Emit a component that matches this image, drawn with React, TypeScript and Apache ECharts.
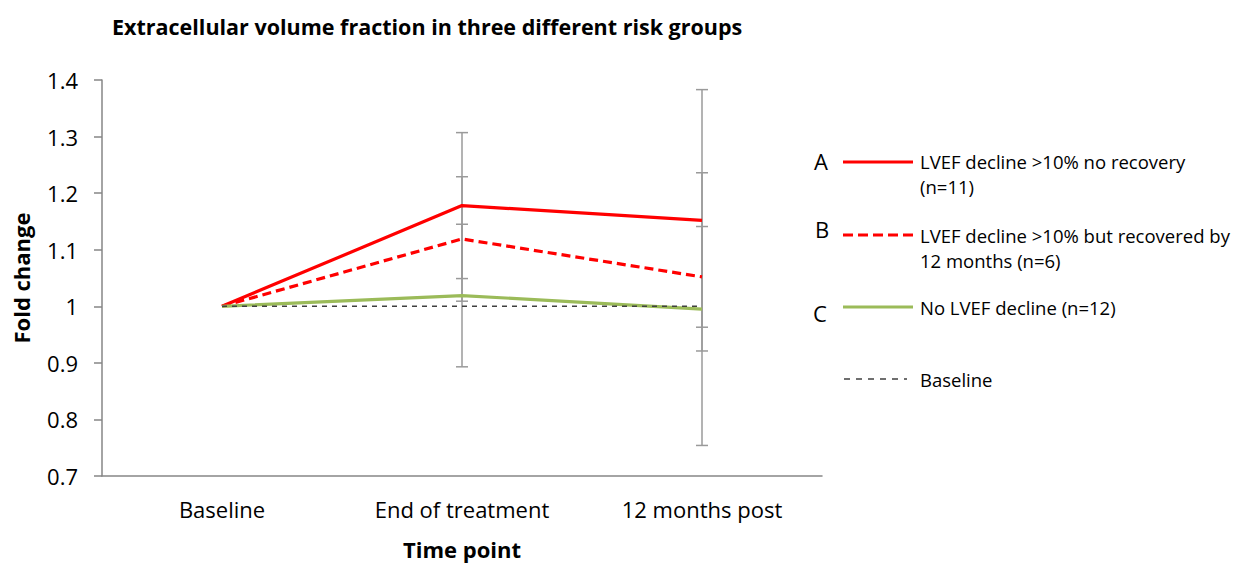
import React, { useEffect, useRef } from "react";
import * as echarts from "echarts";

const categories = ["Baseline", "End of treatment", "12 months post"];
const groupA = [1, 1.178, 1.152];
const errA = [0, 0.129, 0.231];
const groupB = [1, 1.119, 1.052];
const errB = [0, 0.11, 0.089];
const groupC = [1, 1.019, 0.995];
const errC = [0, 0.126, 0.241];
const baseline = [1, 1, 1];
const yTicks = { min: 0.7, max: 1.4, interval: 0.1 };

const FONT = "'Open Sans', 'Noto Sans', sans-serif";

function errData(vals: number[], errs: number[]) {
  return vals
    .map((v, i) => [i, v - errs[i], v + errs[i]])
    .filter((_, i) => errs[i] > 0);
}

export default function App() {
  const ref = useRef<HTMLDivElement>(null);
  useEffect(() => {
    if (!ref.current) return;
    const chart = echarts.init(ref.current, null, { renderer: "svg" });
    const errorSeries = (vals: number[], errs: number[], name: string) => ({
      type: "custom",
      name,
      z: 1,
      silent: true,
      data: errData(vals, errs),
      renderItem: (params: any, api: any) => {
        const x = api.value(0);
        const lo = api.coord([x, api.value(1)]);
        const hi = api.coord([x, api.value(2)]);
        const w = 6;
        const style = { stroke: "#9a9a9a", lineWidth: 1.5 };
        return {
          type: "group",
          children: [
            { type: "line", shape: { x1: lo[0], y1: lo[1], x2: hi[0], y2: hi[1] }, style },
            { type: "line", shape: { x1: lo[0] - w, y1: lo[1], x2: lo[0] + w, y2: lo[1] }, style },
            { type: "line", shape: { x1: hi[0] - w, y1: hi[1], x2: hi[0] + w, y2: hi[1] }, style },
          ],
        };
      },
    });
    const legendText = (x: number, y: number, text: string) => ({
      type: "text",
      x,
      y,
      style: {
        text,
        font: `18.5px ${FONT}`,
        fill: "#000",
        textVerticalAlign: "middle",
        lineHeight: 25,
      },
    });
    const letter = (x: number, y: number, text: string) => ({
      type: "text",
      x,
      y,
      style: { text, font: `22px ${FONT}`, fill: "#000", textAlign: "center", textVerticalAlign: "middle" },
    });
    chart.setOption({
      animation: false,
      title: {
        text: "Extracellular volume fraction in three different risk groups",
        left: 112,
        top: 15,
        padding: 0,
        textStyle: { fontFamily: FONT, fontWeight: "bold", fontSize: 21.5, color: "#000" },
      },
      grid: { left: 102, top: 80, width: 720, height: 399, containLabel: false },
      xAxis: {
        type: "category",
        data: categories,
        boundaryGap: true,
        name: "Time point",
        nameLocation: "middle",
        nameGap: 62,
        nameTextStyle: { fontFamily: FONT, fontWeight: "bold", fontSize: 22, color: "#000" },
        axisLine: { lineStyle: { color: "#868686", width: 1.5 } },
        axisTick: { alignWithLabel: true, length: 7, lineStyle: { color: "#868686", width: 1.5 } },
        axisLabel: { fontFamily: FONT, fontSize: 22, color: "#000", margin: 22 },
        splitLine: { show: false },
      },
      yAxis: {
        type: "value",
        min: yTicks.min,
        max: yTicks.max,
        interval: yTicks.interval,
        name: "Fold change",
        nameLocation: "middle",
        nameGap: 70,
        nameTextStyle: { fontFamily: FONT, fontWeight: "bold", fontSize: 22, color: "#000" },
        axisLine: { show: true, lineStyle: { color: "#868686", width: 1.5 } },
        axisTick: { show: true, length: 8, lineStyle: { color: "#868686", width: 1.5 } },
        axisLabel: {
          fontFamily: FONT,
          fontSize: 22,
          color: "#000",
          margin: 24,
          formatter: (v: number) => String(parseFloat(v.toFixed(1))),
        },
        splitLine: { show: false },
      },
      series: [
        errorSeries(groupA, errA, "errA"),
        errorSeries(groupB, errB, "errB"),
        errorSeries(groupC, errC, "errC"),
        {
          type: "line",
          name: "LVEF decline >10% no recovery (n=11)",
          data: groupA,
          showSymbol: false,
          z: 3,
          lineStyle: { color: "#ff0000", width: 3.2 },
          itemStyle: { color: "#ff0000" },
        },
        {
          type: "line",
          name: "LVEF decline >10% but recovered by 12 months (n=6)",
          data: groupB,
          showSymbol: false,
          z: 3,
          lineStyle: { color: "#ff0000", width: 3.2, type: [9, 5] },
          itemStyle: { color: "#ff0000" },
        },
        {
          type: "line",
          name: "No LVEF decline (n=12)",
          data: groupC,
          showSymbol: false,
          z: 3,
          lineStyle: { color: "#9bbb59", width: 3.2 },
          itemStyle: { color: "#9bbb59" },
        },
        {
          type: "line",
          name: "Baseline",
          data: baseline,
          showSymbol: false,
          z: 4,
          lineStyle: { color: "#404040", width: 1.5, type: [5, 5] },
          itemStyle: { color: "#404040" },
        },
      ],
      graphic: [
        letter(821, 161, "A"),
        { type: "line", shape: { x1: 843, y1: 162, x2: 913, y2: 162 }, style: { stroke: "#ff0000", lineWidth: 3.2 } },
        legendText(920, 174, "LVEF decline >10% no recovery\n(n=11)"),
        letter(822, 229, "B"),
        { type: "line", shape: { x1: 843, y1: 235, x2: 913, y2: 235 }, style: { stroke: "#ff0000", lineWidth: 3.2, lineDash: [10, 5] } },
        legendText(920, 248, "LVEF decline >10% but recovered by\n12 months (n=6)"),
        letter(820, 313, "C"),
        { type: "line", shape: { x1: 843, y1: 307, x2: 913, y2: 307 }, style: { stroke: "#9bbb59", lineWidth: 3.2 } },
        legendText(920, 307, "No LVEF decline (n=12)"),
        { type: "line", shape: { x1: 844, y1: 379, x2: 907, y2: 379 }, style: { stroke: "#404040", lineWidth: 1.5, lineDash: [6, 6] } },
        legendText(920, 379, "Baseline"),
      ],
    });
    return () => chart.dispose();
  }, []);
  return (
    <div
      ref={ref}
      style={{ position: "fixed", left: 0, top: 0, width: 1246, height: 565, background: "#fff" }}
    />
  );
}
